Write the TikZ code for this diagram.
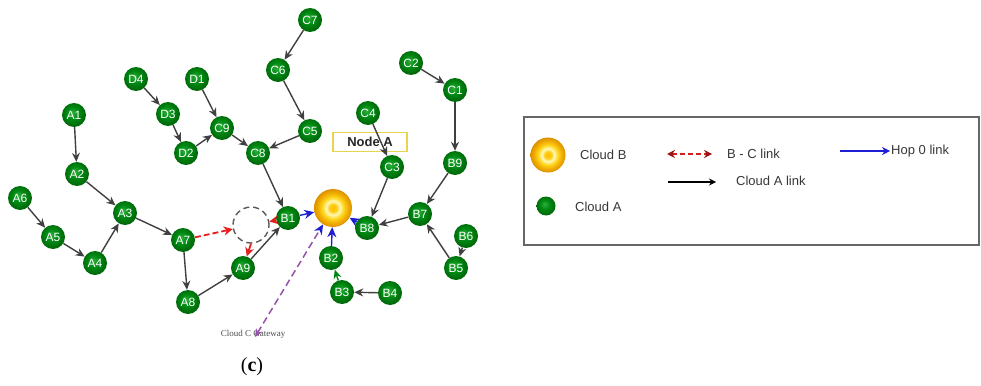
\documentclass[tikz,border=0pt]{standalone}
\usepackage{fontspec}
\setmainfont{Liberation Serif}
\setsansfont{Liberation Sans}
\usetikzlibrary{arrows.meta}
\definecolor{ngreen}{RGB}{0,135,20}
\definecolor{redlink}{RGB}{230,30,30}
\definecolor{darkredlink}{RGB}{150,20,20}
\definecolor{hopblue}{RGB}{30,30,210}
\definecolor{gatepurple}{RGB}{150,80,170}
\definecolor{boxyellow}{RGB}{232,212,77}
\definecolor{legtext}{RGB}{55,55,55}
\pgfdeclareradialshading{cloudb}{\pgfpoint{0bp}{0bp}}{%
  color(0bp)=(rgb,255:red,255;green,190;blue,0);
  color(5bp)=(rgb,255:red,255;green,205;blue,20);
  color(9bp)=(rgb,255:red,255;green,250;blue,190);
  color(14bp)=(rgb,255:red,255;green,215;blue,30);
  color(20bp)=(rgb,255:red,240;green,172;blue,0);
  color(25bp)=(rgb,255:red,220;green,145;blue,0);
  color(50bp)=(rgb,255:red,220;green,145;blue,0)}
\pgfdeclareradialshading{greenball}{\pgfpoint{-4bp}{5bp}}{%
  color(0bp)=(rgb,255:red,50;green,175;blue,60);
  color(12bp)=(rgb,255:red,0;green,140;blue,20);
  color(25bp)=(rgb,255:red,0;green,105;blue,10);
  color(50bp)=(rgb,255:red,0;green,105;blue,10)}
\tikzset{
  gnode/.style={circle, shading=greenball, minimum size=24pt, inner sep=0pt,
    text=white, font=\sffamily\fontsize{12}{12}\selectfont},
  cloudbnode/.style={circle, shading=cloudb, minimum size=38pt, inner sep=0pt},
  alink/.style={draw=black!75, line width=1.4pt, -{Stealth[length=9pt,width=8pt]}},
  hoplink/.style={draw=hopblue!70!gatepurple, line width=1.4pt, -{Stealth[length=10pt,width=9pt]}, color=hopblue},
  redarrow/.style={draw=redlink, line width=1.8pt, -{Stealth[length=9pt,width=9pt]}},
  legtxt/.style={text=legtext, font=\sffamily\fontsize{13}{13}\selectfont, anchor=west, inner sep=0pt}
}
\begin{document}
\begin{tikzpicture}[x=1pt,y=-1pt]
\useasboundingbox (0,0) rectangle (981,385);
% dashed circle
\node[circle, draw=black!65, dashed, dash pattern=on 6pt off 4pt, line width=1.4pt, minimum size=36pt] (dc) at (251,225) {};
% cloud B
\node[cloudbnode] (cb) at (333,208) {};
% nodes
\foreach \n/\x/\y in {A1/74/115, A2/77/174, A3/125/213, A4/95/263, A5/53/237, A6/20/198,
  A7/183/240, A8/188/302, A9/243/268,
  B1/288/218, B2/331/258, B3/342/292, B4/390/293, B5/456/268, B6/466/236, B7/420/214, B8/367/228, B9/455/163,
  C1/455/90, C2/411/63, C3/392/167, C4/368/113, C5/310/131, C6/278/70, C7/310/20, C8/258/153, C9/222/128,
  D1/197/79, D2/186/153, D3/168/114, D4/136/79}
  \node[gnode] (\n) at (\x,\y) {\n};
% Node A label
\node[draw=boxyellow, line width=1.5pt, minimum width=74pt, minimum height=19pt, inner sep=0pt,
  font=\sffamily\bfseries\fontsize{13}{13}\selectfont, text=black!85] (nodeA) at (370,142) {Node A};
% Cloud A links
\foreach \s/\t in {A1/A2, A2/A3, A6/A5, A5/A4, A4/A3, A3/A7, A7/A8, A8/A9, A9/B1, C8/B1,
  D4/D3, D3/D2, D2/C9, D1/C9, C9/C8, C7/C6, C6/C5, C5/C8, C4/C3, C3/B8, C2/C1, C1/B9,
  B9/B7, B7/B8, B5/B7, B6/B5, B4/B3}
  \draw[alink] (\s) -- (\t);
\draw[draw=ngreen, line width=1.4pt, -{Stealth[length=9pt,width=8pt]}, color=ngreen] (B3) -- (B2);
% hop 0 links
\draw[hoplink] (B1) -- (cb);
\draw[hoplink] (B8) -- (cb);
\draw[hoplink] (B2) -- (cb);
% red B-C links
\draw[redarrow, dashed, dash pattern=on 6pt off 3pt] (A7) -- (dc);
\draw[redarrow] (B1) -- (dc);
\draw[redarrow] (dc.south) -- (A9);
% Cloud C gateway
\node[font=\rmfamily\fontsize{9}{9}\selectfont, text=black!70, inner sep=0pt] (gw) at (253,334) {Cloud C Gateway};
\coordinate (gwp) at (255,337);
\draw[draw=gatepurple, dashed, dash pattern=on 7pt off 4pt, line width=1.5pt,
  {Stealth[length=8pt,width=7pt]}-{Stealth[length=10pt,width=9pt,color=hopblue]}] (gwp) -- (cb);
% caption
\node[font=\rmfamily\fontsize{20}{20}\selectfont, inner sep=0pt] (cap) at (252,367) {(\textbf{c})};
% legend
\node[draw=black!60, line width=1.3pt, minimum width=455pt, minimum height=128pt, inner sep=0pt] (leg) at (751.5,181) {};
\node[cloudbnode, minimum size=35pt] (lcb) at (548,155) {};
\node[legtxt] (lcbt) at (580,155) {Cloud B};
\node[circle, shading=greenball, minimum size=19pt, inner sep=0pt] (lca) at (546,206) {};
\node[legtxt] (lcat) at (575,207) {Cloud A};
\coordinate (bc1) at (667,154);
\coordinate (bc2) at (712,154);
\draw[draw=redlink!80!darkredlink, dashed, dash pattern=on 5pt off 3pt, line width=1.4pt,
  {Stealth[length=8pt,width=8pt,color=darkredlink]}-{Stealth[length=8pt,width=8pt,color=darkredlink]}] (bc1) -- (bc2);
\node[legtxt] (bct) at (727,154) {B - C link};
\coordinate (h1) at (840,151);
\coordinate (h2) at (890,151);
\draw[draw=hopblue, line width=1.6pt, -{Stealth[length=8pt,width=8pt]}] (h1) -- (h2);
\node[legtxt] (ht) at (891,151) {Hop 0 link};
\coordinate (l1) at (668,182);
\coordinate (l2) at (716,182);
\draw[draw=black, line width=1.2pt, -{Stealth[length=7pt,width=7pt]}] (l1) -- (l2);
\node[legtxt] (lt) at (736,181) {Cloud A link};
\end{tikzpicture}
\end{document}
